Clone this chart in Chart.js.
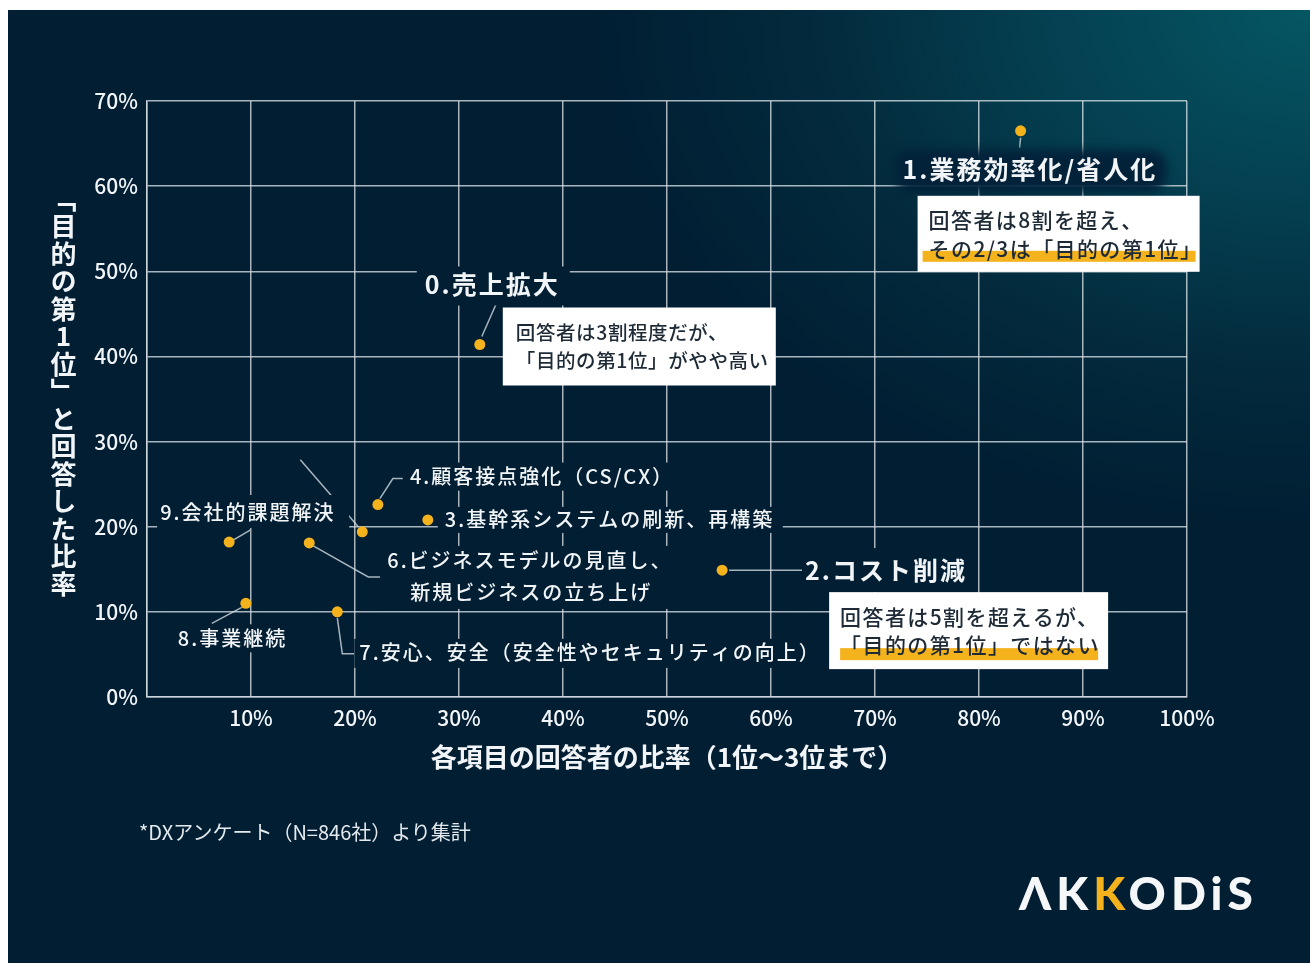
<!DOCTYPE html>
<html lang="ja">
<head>
<meta charset="utf-8">
<script src="https://cdn.jsdelivr.net/npm/chart.js@4.4.1/dist/chart.umd.min.js"></script>
<style>
  html,body{margin:0;padding:0;background:#ffffff;}
  body{width:1310px;height:963px;position:relative;overflow:hidden;font-family:"Noto Sans CJK JP","Noto Sans",sans-serif;}
  #panel{position:absolute;left:8px;top:10px;width:1302px;height:953px;
    background:radial-gradient(ellipse 720px 520px at 100% 0%, #055663 0%, #044152 35%, #032a3c 70%, #011e33 100%), #011e33;}
  #chart{position:absolute;left:0;top:0;}
  #ytitle{position:absolute;left:50px;top:186px;writing-mode:vertical-rl;text-orientation:upright;
    font-size:26px;font-weight:700;letter-spacing:1.5px;line-height:26px;color:#f2f5f7;}
  #note{position:absolute;left:139px;top:820px;font-size:20px;line-height:24px;color:#e3e9ed;}
  #logo{position:absolute;left:1019px;top:868px;font-family:Lato,"DejaVu Sans",sans-serif;font-size:46px;font-weight:900;
    line-height:50px;letter-spacing:5px;color:#f4f6f8;}
  #logo .y{color:#f4b21d;}
</style>
</head>
<body>
<div id="panel"></div>
<canvas id="chart" width="1310" height="963"></canvas>
<div id="ytitle">「目的の第1位」と回答した比率</div>
<div id="note">*DXアンケート（N=846社）より集計</div>
<div id="logo">ΛK<span class="y">K</span>ODiS</div>
<script>
// ---------- data ----------
const categories = [
  '0.売上拡大',
  '1.業務効率化/省人化',
  '2.コスト削減',
  '3.基幹系システムの刷新、再構築',
  '4.顧客接点強化（CS/CX）',
  '5.',
  '6.ビジネスモデルの見直し、新規ビジネスの立ち上げ',
  '7.安心、安全（安全性やセキュリティの向上）',
  '8.事業継続',
  '9.会社的課題解決'
];
// share of respondents choosing the item (rank 1-3), %
const respondentShare = [32.0, 84.0, 55.3, 27.0, 22.2, 20.7, 15.6, 18.3, 9.5, 7.9];
// share answering it as the No.1 purpose, %
const firstRankShare  = [41.4, 66.5, 14.9, 20.8, 22.6, 19.4, 18.1, 10.0, 11.0, 18.2];
const xTicks = [0, 10, 20, 30, 40, 50, 60, 70, 80, 90, 100];
const yTicks = [0, 10, 20, 30, 40, 50, 60, 70];
const xTitle = '各項目の回答者の比率（1位〜3位まで）';
const calloutTexts = [
  ['回答者は3割程度だが、', '「目的の第1位」がやや高い'],
  ['回答者は8割を超え、', 'その2/3は「目的の第1位」'],
  ['回答者は5割を超えるが、', '「目的の第1位」ではない']
];

// ---------- styling / annotation layout (pixel offsets from each point) ----------
const WHITE = '#f2f5f7';
const GRID = 'rgba(215,224,231,0.78)';
const PANEL = '#011e33';
const ORANGE = '#f4b21d';
const FONT = '"Noto Sans CJK JP","Noto Sans",sans-serif';

const labelSpecs = [
  {i:0, big:true, pos:[[-55,-60]], bg:[-63,-78,90,-39], leader:[[2,-8],[17,-42]]},
  {i:1, big:true, pos:[[-118,39]], bg:[-126,19,146,61], halo:true, leader:[[0,7],[-1,17]]},
  {i:2, big:true, pos:[[83,0]], bg:[80,-22,252,22], leader:[[7,0],[80,0]]},
  {i:3, pos:[[17,0]], bg:[10,-13,355,13]},
  {i:4, pos:[[32,-28]], bg:[25,-42,312,-14], leader:[[2,-6],[15,-26],[25,-26]]},
  {i:5, noText:true, leader:[[-62,-72],[-4,-5]]},
  {i:6, pos:[[78,18],[101,50]], wrapAfter:'、', bg:[71,3,359,66], leader:[[4,3],[59,34],[71,34]]},
  {i:7, pos:[[22,41]], bg:[17,27,472,56], leader:[[0,6],[5,42],[17,42]]},
  {i:8, pos:[[-68,35]], bg:[-74,21,52,49], leader:[[-4,4],[-34,20]]},
  {i:9, pos:[[-69,-30]], bg:[-72,-47,120,-14], leader:[[4,-2],[21,-12]]}
];
const calloutSpecs = [
  {i:0, box:[23,-37,296,41], text:[[36,-12],[36,16]], size:19.5, spacing:0.6},
  {i:1, box:[-103,65,179,141], text:[[-92,89],[-92,118]], hl:[-98,120,175,131], size:21, spacing:1.4},
  {i:2, box:[107,22,386,99], text:[[118,47],[118,75]], hl:[118,78,376,90], size:21, spacing:1.4}
];

const annotPlugin = {
  id: 'annot',
  beforeDatasetsDraw(chart) {
    const {ctx, scales: {x, y}} = chart;
    const pts = respondentShare.map((v, i) => [x.getPixelForValue(v), y.getPixelForValue(firstRankShare[i])]);
    ctx.save();
    // leader lines
    ctx.strokeStyle = GRID; ctx.lineWidth = 1.5;
    labelSpecs.forEach(s => {
      if (!s.leader) return;
      const [px, py] = pts[s.i];
      ctx.beginPath();
      s.leader.forEach(([dx, dy], k) => k ? ctx.lineTo(px + dx, py + dy) : ctx.moveTo(px + dx, py + dy));
      ctx.stroke();
    });
    // label backgrounds (mask grid lines)
    labelSpecs.forEach(s => {
      if (!s.bg) return;
      const [px, py] = pts[s.i];
      const [x0, y0, x1, y1] = s.bg;
      if (s.halo) {
        ctx.save();
        ctx.filter = 'blur(5px)';
        ctx.fillStyle = '#02223a';
        ctx.beginPath();
        ctx.roundRect(px + x0, py + y0, x1 - x0, y1 - y0, 16);
        ctx.fill();
        ctx.restore();
      } else {
        ctx.fillStyle = PANEL;
        ctx.fillRect(px + x0, py + y0, x1 - x0, y1 - y0);
      }
    });
    // label texts
    ctx.textBaseline = 'middle';
    ctx.textAlign = 'left';
    ctx.fillStyle = WHITE;
    labelSpecs.forEach(s => {
      if (s.noText) return;
      const [px, py] = pts[s.i];
      let lines = [categories[s.i]];
      if (s.wrapAfter) {
        const k = categories[s.i].indexOf(s.wrapAfter) + 1;
        lines = [categories[s.i].slice(0, k), categories[s.i].slice(k)];
      }
      if (s.big) { ctx.font = '700 25px ' + FONT; ctx.letterSpacing = '2px'; }
      else { ctx.font = '500 20px ' + FONT; ctx.letterSpacing = '2px'; }
      lines.forEach((t, k) => ctx.fillText(t, px + s.pos[k][0], py + s.pos[k][1]));
    });
    // callout boxes
    calloutSpecs.forEach((c, ci) => {
      const [px, py] = pts[c.i];
      const [x0, y0, x1, y1] = c.box;
      ctx.fillStyle = '#ffffff';
      ctx.fillRect(px + x0, py + y0, x1 - x0, y1 - y0);
      if (c.hl) {
        const [h0, hy0, h1, hy1] = c.hl;
        ctx.fillStyle = ORANGE;
        ctx.fillRect(px + h0, py + hy0, h1 - h0, hy1 - hy0);
      }
      ctx.fillStyle = '#1e2b37';
      ctx.font = '500 ' + c.size + 'px ' + FONT;
      ctx.letterSpacing = c.spacing + 'px';
      calloutTexts[ci].forEach((t, k) => ctx.fillText(t, px + c.text[k][0], py + c.text[k][1]));
    });
    ctx.restore();
  }
};

Chart.defaults.font.family = FONT;
new Chart(document.getElementById('chart'), {
  type: 'scatter',
  data: {
    datasets: [{
      data: respondentShare.map((v, i) => ({x: v, y: firstRankShare[i]})),
      backgroundColor: ORANGE,
      borderColor: ORANGE,
      borderWidth: 0,
      pointRadius: 5.5,
      pointHoverRadius: 5.5
    }]
  },
  options: {
    responsive: false,
    animation: false,
    events: [],
    layout: {padding: {left: 0, top: 101, right: 123, bottom: 166}},
    plugins: {legend: {display: false}, tooltip: {enabled: false}},
    scales: {
      x: {
        type: 'linear', min: 0, max: 100,
        afterBuildTicks: s => { s.ticks = xTicks.map(v => ({value: v})); },
        afterFit: s => { s.height = 100; },
        ticks: {
          callback: v => v === 0 ? '' : v + '%',
          color: WHITE, font: {size: 21, weight: '500'}, padding: 8,
          maxRotation: 0, autoSkip: false
        },
        grid: {color: GRID, lineWidth: 1.5, drawTicks: false},
        border: {display: true, color: GRID, width: 1.5},
        title: {display: true, text: xTitle, color: WHITE, font: {size: 26, weight: '700'}, padding: {top: 0, bottom: 24}}
      },
      y: {
        type: 'linear', min: 0, max: 70,
        afterBuildTicks: s => { s.ticks = yTicks.map(v => ({value: v})); },
        afterFit: s => { s.width = 147; },
        ticks: {
          callback: v => v + '%',
          color: WHITE, font: {size: 21, weight: '500'}, padding: 9, autoSkip: false
        },
        grid: {color: GRID, lineWidth: 1.5, drawTicks: false},
        border: {display: true, color: GRID, width: 1.5}
      }
    }
  },
  plugins: [annotPlugin]
});
</script>
</body>
</html>
